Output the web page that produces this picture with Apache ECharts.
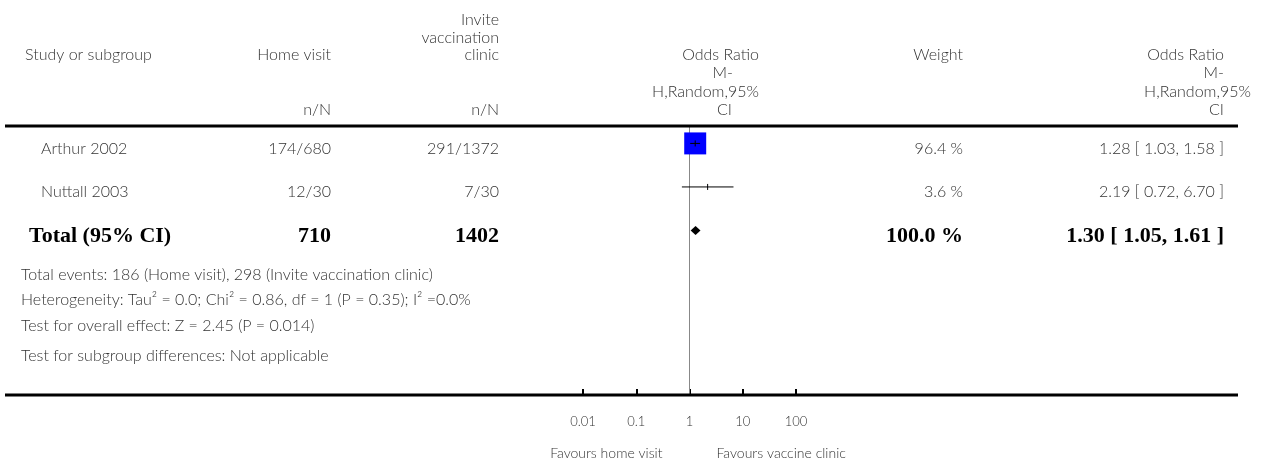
<!DOCTYPE html>
<html>
<head>
<meta charset="utf-8">
<script src="https://cdn.jsdelivr.net/npm/echarts@6/dist/echarts.min.js"></script>
<style>
  html, body { margin: 0; padding: 0; background: #fff; }
  #chart { width: 1266px; height: 461px; }
</style>
</head>
<body>
<div id="chart"></div>
<script>
// Studies and their event counts (n/N) for each arm
const studies = ['Arthur 2002', 'Nuttall 2003'];
const homeEvents = [174, 12];
const homeTotals = [680, 30];
const clinicEvents = [291, 7];
const clinicTotals = [1372, 30];

// Odds ratios (M-H, random effects) with 95% CI and study weights (%)
const oddsRatios = [1.28, 2.19];
const ciLower = [1.03, 0.72];
const ciUpper = [1.58, 6.70];
const weights = [96.4, 3.6];

// Pooled estimate
const pooledOR = 1.30;
const pooledLower = 1.05;
const pooledUpper = 1.61;
const pooledWeight = 100.0;
const totalHome = 710;
const totalClinic = 1402;

// Summary statistics printed under the table
const footnotes = [
  'Total events: 186 (Home visit), 298 (Invite vaccination clinic)',
  'Heterogeneity: Tau\u00B2 = 0.0; Chi\u00B2 = 0.86, df = 1 (P = 0.35); I\u00B2 =0.0%',
  'Test for overall effect: Z = 2.45 (P = 0.014)',
  'Test for subgroup differences: Not applicable'
];

// Log-scale axis ticks and direction labels
const axisTicks = [0.01, 0.1, 1, 10, 100];
const favourLabels = ['Favours home visit', 'Favours vaccine clinic'];

const FONT = "Lato, 'Open Sans', sans-serif";
const SERIF = "'Liberation Serif', 'DejaVu Serif', serif";
const TEXT_COLOR = '#333';
const BODY_SIZE = 16;
const BOX_AT_FULL_WEIGHT = 22.8;

const fmt2 = v => v.toFixed(2);
const ciText = (o, l, u) => fmt2(o) + ' [ ' + fmt2(l) + ', ' + fmt2(u) + ' ]';

// Rows on the y axis: studies 1..n, pooled row after them
const forestData = studies.map((s, i) => [oddsRatios[i], i + 1, ciLower[i], ciUpper[i], weights[i], 0]);
forestData.push([pooledOR, studies.length + 1, pooledLower, pooledUpper, pooledWeight, 1]);

function renderForest(params, api) {
  const row = api.value(1);
  const y = api.coord([1, row])[1];
  const xEst = api.coord([api.value(0), row])[0];
  const xLo = api.coord([api.value(2), row])[0];
  const xHi = api.coord([api.value(3), row])[0];
  if (api.value(5) === 1) {
    const h = 4.5;
    return {
      type: 'polygon',
      shape: { points: [[xLo, y], [xEst, y - h], [xHi, y], [xEst, y + h]] },
      style: { fill: '#000' }
    };
  }
  const side = BOX_AT_FULL_WEIGHT * api.value(4) / 100;
  return {
    type: 'group',
    children: [
      {
        type: 'rect',
        shape: { x: xEst - side / 2, y: y - side / 2, width: side, height: side },
        style: { fill: '#0000ff' }
      },
      {
        type: 'line',
        shape: { x1: xLo, y1: y, x2: xHi, y2: y },
        style: { stroke: '#000', lineWidth: 1 }
      },
      {
        type: 'line',
        shape: { x1: xEst, y1: y - 3, x2: xEst, y2: y + 3 },
        style: { stroke: '#000', lineWidth: 1 }
      }
    ]
  };
}

const chart = echarts.init(document.getElementById('chart'), null, { renderer: 'canvas' });

chart.setOption({
  animation: false,
  backgroundColor: '#fff',
  grid: { left: 583, width: 213, top: 126, bottom: 66, containLabel: false },
  xAxis: {
    type: 'log',
    logBase: 10,
    min: axisTicks[0],
    max: axisTicks[axisTicks.length - 1],
    splitLine: { show: false },
    axisLine: { show: false },
    axisTick: { show: true, inside: true, length: 6, lineStyle: { color: '#000', width: 2 } },
    axisLabel: {
      margin: 20,
      color: TEXT_COLOR,
      fontFamily: FONT,
      fontWeight: 300,
      fontSize: 13,
      formatter: v => {
        const t = axisTicks.find(a => Math.abs(Math.log10(a) - Math.log10(v)) < 1e-6);
        return t === undefined ? '' : String(t);
      }
    }
  },
  yAxis: {
    type: 'value',
    inverse: true,
    min: 0.6,
    max: 6.78,
    show: false
  },
  series: [
    {
      type: 'line',
      data: [],
      z: 1,
      markLine: {
        silent: true,
        symbol: 'none',
        label: { show: false },
        lineStyle: { color: '#888', width: 1, type: 'solid' },
        data: [{ xAxis: 1 }]
      }
    },
    {
      type: 'custom',
      z: 5,
      renderItem: renderForest,
      data: forestData,
      encode: { x: 0, y: 1 }
    }
  ]
});

// Table text laid out around the plot
function txt(text, x, y, align, opts) {
  opts = opts || {};
  return {
    type: 'text',
    x: x, y: y,
    silent: true,
    style: {
      text: text,
      align: align,
      verticalAlign: 'middle',
      fill: opts.color || TEXT_COLOR,
      font: (opts.bold ? 'bold ' : '300 ') + (opts.size || BODY_SIZE) + 'px ' + (opts.family || FONT)
    }
  };
}

const rowY = r => chart.convertToPixel({ xAxisIndex: 0, yAxisIndex: 0 }, [1, r])[1];
const xOne = chart.convertToPixel({ xAxisIndex: 0, yAxisIndex: 0 }, [1, 1])[0];

const COL_STUDY = 25, COL_HOME = 331, COL_CLINIC = 499, COL_WEIGHT = 963, COL_OR = 1224;
const els = [];

// horizontal rules
els.push({ type: 'rect', shape: { x: 5, y: 124.5, width: 1233, height: 3 }, style: { fill: '#000' }, z: 10 });
els.push({ type: 'rect', shape: { x: 5, y: 393.5, width: 1233, height: 3 }, style: { fill: '#000' }, z: 10 });

// header
els.push(txt('Study or subgroup', COL_STUDY, 55, 'left'));
els.push(txt('Home visit', COL_HOME, 55, 'right'));
els.push(txt('n/N', COL_HOME, 110, 'right'));
els.push(txt('Invite', COL_CLINIC, 20, 'right'));
els.push(txt('vaccination', COL_CLINIC, 37.5, 'right'));
els.push(txt('clinic', COL_CLINIC, 55, 'right'));
els.push(txt('n/N', COL_CLINIC, 110, 'right'));
els.push(txt('Odds Ratio', 759, 55, 'right'));
els.push(txt('M-', 733, 73, 'right'));
els.push(txt('H,Random,95%', 759, 91.5, 'right'));
els.push(txt('CI', 732, 110, 'right'));
els.push(txt('Weight', COL_WEIGHT, 55, 'right'));
els.push(txt('Odds Ratio', COL_OR, 55, 'right'));
els.push(txt('M-', COL_OR, 73, 'right'));
els.push(txt('H,Random,95%', 1251, 91.5, 'right'));
els.push(txt('CI', COL_OR, 110, 'right'));

// study rows
studies.forEach((s, i) => {
  const y = rowY(i + 1) + 5;
  els.push(txt(s, 41, y, 'left'));
  els.push(txt(homeEvents[i] + '/' + homeTotals[i], COL_HOME, y, 'right'));
  els.push(txt(clinicEvents[i] + '/' + clinicTotals[i], COL_CLINIC, y, 'right'));
  els.push(txt(weights[i].toFixed(1) + ' %', COL_WEIGHT, y, 'right'));
  els.push(txt(ciText(oddsRatios[i], ciLower[i], ciUpper[i]), COL_OR, y, 'right'));
});

// pooled row
const yTot = rowY(studies.length + 1) + 6;
const bold = { bold: true, size: 22, family: SERIF, color: '#000' };
els.push(txt('Total (95% CI)', 29, yTot, 'left', bold));
els.push(txt(String(totalHome), COL_HOME, yTot, 'right', bold));
els.push(txt(String(totalClinic), COL_CLINIC, yTot, 'right', bold));
els.push(txt(pooledWeight.toFixed(1) + ' %', COL_WEIGHT, yTot, 'right', bold));
els.push(txt(ciText(pooledOR, pooledLower, pooledUpper), COL_OR, yTot, 'right', bold));

// footnotes
const footY = [275, 300, 326, 356];
footnotes.forEach((f, i) => els.push(txt(f, 21, footY[i], 'left')));

// direction labels under the axis
els.push(txt(favourLabels[0], xOne - 27, 453, 'right', { size: 14 }));
els.push(txt(favourLabels[1], xOne + 27, 453, 'left', { size: 14 }));

chart.setOption({ graphic: { elements: els } });
</script>
</body>
</html>
